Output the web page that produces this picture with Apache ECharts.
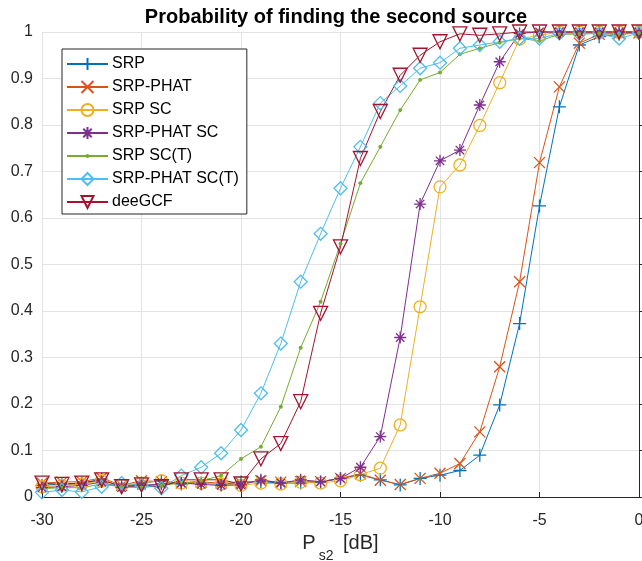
<!DOCTYPE html>
<html>
<head>
<meta charset="utf-8">
<script src="https://cdn.jsdelivr.net/npm/echarts@6/dist/echarts.min.js"></script>
<style>
  html, body { margin: 0; padding: 0; background: #fff; }
  #chart { width: 642px; height: 561px; }
</style>
</head>
<body>
<div id="chart"></div>
<script>
// Power of the second source, dB
const powerDb = [-30, -29, -28, -27, -26, -25, -24, -23, -22, -21, -20, -19, -18, -17, -16, -15,
                 -14, -13, -12, -11, -10, -9, -8, -7, -6, -5, -4, -3, -2, -1, 0];

// Detection probability per method
const srp = [0.025, 0.028, 0.030, 0.038, 0.022, 0.030, 0.035, 0.028, 0.030, 0.027, 0.032, 0.033, 0.030, 0.030, 0.032, 0.040,
             0.047, 0.037, 0.026, 0.040, 0.047, 0.057, 0.090, 0.198, 0.373, 0.626, 0.839, 0.972, 0.990, 0.995, 1.000];
const srpPhat = [0.030, 0.032, 0.033, 0.041, 0.025, 0.035, 0.033, 0.030, 0.032, 0.030, 0.030, 0.035, 0.032, 0.033, 0.033, 0.040,
                 0.050, 0.036, 0.027, 0.040, 0.051, 0.072, 0.140, 0.280, 0.463, 0.719, 0.882, 0.976, 0.995, 0.997, 0.998];
const srpSc = [0.022, 0.025, 0.028, 0.035, 0.025, 0.030, 0.035, 0.030, 0.030, 0.028, 0.025, 0.030, 0.028, 0.032, 0.030, 0.035,
               0.048, 0.062, 0.155, 0.409, 0.667, 0.714, 0.799, 0.891, 0.985, 0.993, 1.000, 1.000, 1.000, 1.000, 1.000];
const srpPhatSc = [0.020, 0.022, 0.025, 0.032, 0.020, 0.025, 0.028, 0.030, 0.027, 0.025, 0.026, 0.037, 0.030, 0.037, 0.033, 0.040,
                   0.064, 0.130, 0.343, 0.630, 0.723, 0.746, 0.843, 0.936, 0.997, 1.000, 1.000, 1.000, 1.000, 1.000, 1.000];
const srpScT = [0.018, 0.020, 0.020, 0.028, 0.022, 0.020, 0.025, 0.030, 0.035, 0.046, 0.082, 0.108, 0.194, 0.321, 0.420, 0.545,
                0.675, 0.753, 0.832, 0.897, 0.913, 0.952, 0.965, 0.977, 0.986, 0.981, 0.995, 0.996, 0.997, 0.995, 0.998];
const srpPhatScT = [0.010, 0.015, 0.011, 0.022, 0.030, 0.026, 0.019, 0.046, 0.064, 0.094, 0.144, 0.223, 0.330, 0.463, 0.566, 0.664,
                    0.753, 0.847, 0.884, 0.922, 0.934, 0.965, 0.972, 0.979, 0.986, 0.986, 0.997, 0.996, 0.997, 0.986, 0.998];
const deeGcf = [0.030, 0.027, 0.030, 0.037, 0.022, 0.026, 0.022, 0.037, 0.037, 0.037, 0.028, 0.082, 0.115, 0.205, 0.395, 0.538,
                0.728, 0.829, 0.907, 0.950, 0.979, 0.996, 0.993, 0.996, 1.000, 1.000, 1.000, 1.000, 1.000, 1.000, 1.000];

const yTicks = [0, 0.1, 0.2, 0.3, 0.4, 0.5, 0.6, 0.7, 0.8, 0.9, 1];

const FONT = '"Liberation Sans", Arial, Helvetica, sans-serif';

// Marker shapes on a 10x10 box (stroke-only ones carry no fill)
const PLUS = 'path://M5,0L5,10M0,5L10,5';
const CROSS = 'path://M0,0L10,10M10,0L0,10';
const STAR = 'path://M5,0L5,10M0,5L10,5M1.5,1.5L8.5,8.5M8.5,1.5L1.5,8.5';
const TRI_DOWN = 'path://M0,0L10,0L5,9Z';
// small dot centred in a 10x10 box (the two moves fix the box size)
const DOT = 'path://M0,0M10,10M6.7,5L6.2,6.2L5,6.7L3.8,6.2L3.3,5L3.8,3.8L5,3.3L6.2,3.8Z';

function zip(ys) {
  return powerDb.map((x, i) => [x, ys[i]]);
}

function makeSeries(name, ys, color, symbol, size, filled) {
  return {
    name: name,
    type: 'line',
    data: zip(ys),
    symbol: symbol,
    symbolSize: size,
    showAllSymbol: true,
    clip: false,
    lineStyle: { color: color, width: 1 },
    itemStyle: {
      color: filled ? color : 'rgba(0,0,0,0)',
      borderColor: color,
      borderWidth: filled ? 0 : 1.3
    },
    emphasis: { disabled: true }
  };
}

const series = [
  makeSeries('SRP', srp, '#0072BD', PLUS, 13, false),
  makeSeries('SRP-PHAT', srpPhat, '#D95319', CROSS, 11, false),
  makeSeries('SRP SC', srpSc, '#EDB120', 'circle', 12, false),
  makeSeries('SRP-PHAT SC', srpPhatSc, '#7E2F8E', STAR, 12, false),
  makeSeries('SRP SC(T)', srpScT, '#77AC30', DOT, 12, true),
  makeSeries('SRP-PHAT SC(T)', srpPhatScT, '#4DBEEE', 'diamond', 13, false),
  makeSeries('deeGCF', deeGcf, '#A2142F', TRI_DOWN, 14, false)
];

const chart = echarts.init(document.getElementById('chart'), null, { renderer: 'canvas' });
chart.setOption({
  animation: false,
  backgroundColor: '#ffffff',
  title: {
    text: 'Probability of finding the second source',
    left: 331,
    top: 2,
    textAlign: 'center',
    textStyle: { fontFamily: FONT, fontSize: 20, fontWeight: 'bold', color: '#000' }
  },
  grid: { left: 42, right: 3, top: 32, bottom: 64, containLabel: false, outerBoundsMode: 'none' },
  legend: {
    orient: 'vertical',
    left: 62,
    top: 49,
    itemWidth: 41,
    itemHeight: 15,
    itemGap: 7,
    padding: [7, 8, 4, 4],
    borderColor: '#262626',
    borderWidth: 1,
    backgroundColor: '#ffffff',
    textStyle: { fontFamily: FONT, fontSize: 16, color: '#000', padding: [0, 0, 0, -1] },
    data: series.map(s => s.name)
  },
  xAxis: {
    type: 'value',
    min: -30,
    max: 0,
    interval: 5,
    name: '{p|P}{s|s2}{p| [dB]}',
    nameLocation: 'middle',
    nameGap: 31,
    nameTextStyle: {
      rich: {
        p: { fontFamily: FONT, fontSize: 20, lineHeight: 22, color: '#262626', padding: [0, 0, 12, 0] },
        s: { fontFamily: FONT, fontSize: 14, lineHeight: 22, color: '#262626', padding: [12, 4, 0, 3] }
      }
    },
    axisLine: { lineStyle: { color: '#262626', width: 1 } },
    axisTick: { inside: true, length: 5, lineStyle: { color: '#262626' } },
    axisLabel: { fontFamily: FONT, fontSize: 16, color: '#262626', margin: 16 },
    splitLine: { show: true, lineStyle: { color: '#e3e3e3', width: 1 } }
  },
  yAxis: {
    type: 'value',
    min: 0,
    max: 1,
    interval: 0.1,
    axisLine: { show: true, lineStyle: { color: '#262626', width: 1 } },
    axisTick: { show: true, inside: true, length: 5, lineStyle: { color: '#262626' } },
    axisLabel: {
      fontFamily: FONT, fontSize: 16, color: '#262626', margin: 9,
      formatter: v => {
        const t = yTicks.find(k => Math.abs(k - v) < 1e-9);
        return t === undefined ? '' : String(t);
      }
    },
    splitLine: { show: true, lineStyle: { color: '#e3e3e3', width: 1 } }
  },
  series: series
});
</script>
</body>
</html>
